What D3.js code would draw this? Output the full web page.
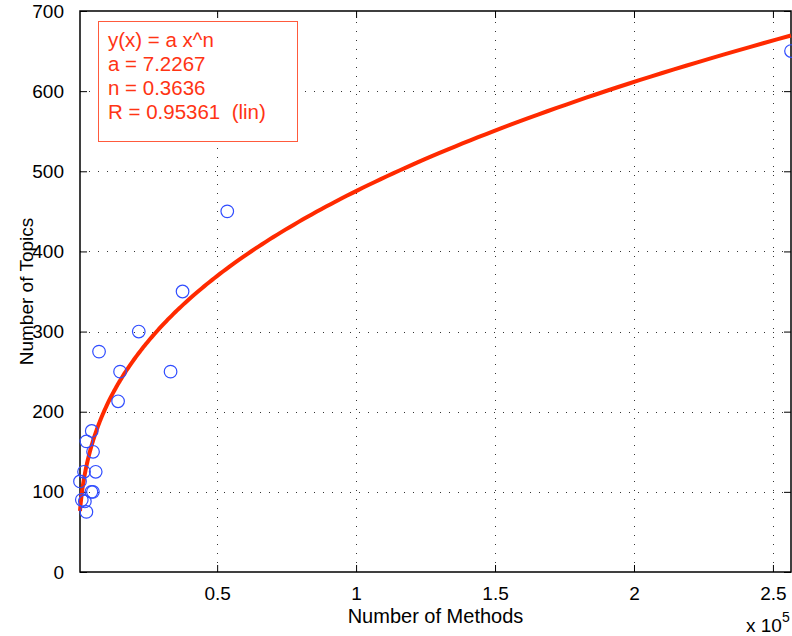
<!DOCTYPE html>
<html>
<head>
<meta charset="utf-8">
<script src="https://cdn.jsdelivr.net/npm/d3@7"></script>
<style>
  body { margin: 0; background: #fff; }
  svg { display: block; font-family: "Liberation Sans", Arial, Helvetica, sans-serif; }
</style>
</head>
<body>
<div id="chart"></div>
<script>
'use strict';

// data
const methods = [650, 1300, 2400, 2950, 2100, 6300, 2950, 4870, 5340, 4760, 5300,
                 14350, 7500, 15070, 33240, 21800, 37560, 53640, 256500];
const topics  = [113, 90, 88, 75, 125, 125, 163, 176, 150, 100, 100,
                 213, 275, 250, 250, 300, 350, 450, 650];
const xTicks = [50000, 100000, 150000, 200000, 250000];
const yTicks = [0, 100, 200, 300, 400, 500, 600, 700];
// power fit y = a x^n
const fitA = 7.2267;
const fitN = 0.3636;
const fitLines = ["y(x) = a x^n", "a = 7.2267", "n = 0.3636", "R = 0.95361  (lin)"];

const width = 792, height = 636;
const margin = {top: 11, right: 1, bottom: 64, left: 80};
const red = "#ff2a00";
const blue = "#2f4cff";

let svg = d3.select("#chart").append("svg")
    .attr("width", width)
    .attr("height", height);

let x = d3.scaleLinear()
    .domain([d3.min(methods), d3.max(methods)])
    .range([margin.left, width - margin.right]);

let y = d3.scaleLinear()
    .domain([0, 700])
    .range([height - margin.bottom, margin.top]);

let x0 = margin.left, x1 = width - margin.right;
let y0 = height - margin.bottom, y1 = margin.top;

// dotted grid
let grid = svg.append("g")
    .attr("stroke", "#333")
    .attr("stroke-width", 1)
    .attr("stroke-dasharray", "1,8");
grid.selectAll(".gx")
    .data(xTicks)
    .join("line")
    .attr("x1", d => Math.round(x(d)) + 0.5).attr("x2", d => Math.round(x(d)) + 0.5)
    .attr("y1", y0).attr("y2", y1);
grid.selectAll(".gy")
    .data(yTicks.filter(d => d > 0 && d < 700))
    .join("line")
    .attr("y1", d => Math.round(y(d)) + 0.5).attr("y2", d => Math.round(y(d)) + 0.5)
    .attr("x1", x0).attr("x2", x1);

// axes with inward ticks (bottom/left) plus mirrored ticks (top/right)
let fmt = d => d3.format("~g")(d / 1e5);

svg.append("g")
    .attr("transform", `translate(0,${y0})`)
    .call(d3.axisBottom(x).tickValues(xTicks).tickSize(-7).tickPadding(15).tickFormat(fmt))
    .call(g => g.select(".domain").remove())
    .call(g => g.selectAll("text").attr("font-size", 19).attr("fill", "#000").attr("font-family", null));

svg.append("g")
    .attr("transform", `translate(0,${y1})`)
    .call(d3.axisTop(x).tickValues(xTicks).tickSize(-7).tickFormat(""))
    .call(g => g.select(".domain").remove());

svg.append("g")
    .attr("transform", `translate(${x0},0)`)
    .call(d3.axisLeft(y).tickValues(yTicks).tickSize(-7).tickPadding(16))
    .call(g => g.select(".domain").remove())
    .call(g => g.selectAll("text").attr("font-size", 19).attr("fill", "#000").attr("font-family", null));

svg.append("g")
    .attr("transform", `translate(${x1},0)`)
    .call(d3.axisRight(y).tickValues(yTicks).tickSize(-7).tickFormat(""))
    .call(g => g.select(".domain").remove());

// frame
svg.append("rect")
    .attr("x", x0).attr("y", y1)
    .attr("width", x1 - x0).attr("height", y0 - y1)
    .attr("fill", "none")
    .attr("stroke", "#000")
    .attr("stroke-width", 1.5);

// fitted curve
let xs = d3.range(0, 301).map(i => d3.min(methods) * Math.pow(d3.max(methods) / d3.min(methods), i / 300));
svg.append("path")
    .datum(xs)
    .attr("fill", "none")
    .attr("stroke", red)
    .attr("stroke-width", 4)
    .attr("d", d3.line().x(d => x(d)).y(d => y(fitA * Math.pow(d, fitN))));

// data points
svg.append("g")
    .selectAll("circle")
    .data(methods.map((m, i) => ({m: m, t: topics[i]})))
    .join("circle")
    .attr("cx", d => x(d.m))
    .attr("cy", d => y(d.t))
    .attr("r", 6.3)
    .attr("fill", "none")
    .attr("stroke", blue)
    .attr("stroke-width", 1.2);

// fit annotation box
let box = svg.append("g");
box.append("rect")
    .attr("x", 98.5).attr("y", 21.5)
    .attr("width", 199).attr("height", 120)
    .attr("fill", "#fff")
    .attr("stroke", "#ff5a3c")
    .attr("stroke-width", 1);
box.selectAll("text")
    .data(fitLines)
    .join("text")
    .attr("x", 108)
    .attr("y", (d, i) => 47 + i * 24)
    .attr("font-size", 20.5)
    .attr("fill", "#ff3414")
    .style("white-space", "pre")
    .text(d => d);

// axis labels
svg.append("text")
    .attr("x", (x0 + x1) / 2)
    .attr("y", 623)
    .attr("text-anchor", "middle")
    .attr("font-size", 20)
    .text("Number of Methods");

svg.append("text")
    .attr("transform", `translate(33,${(y0 + y1) / 2}) rotate(-90)`)
    .attr("text-anchor", "middle")
    .attr("font-size", 19)
    .text("Number of Topics");

let ex = svg.append("text")
    .attr("x", 746)
    .attr("y", 632)
    .attr("font-size", 19);
ex.append("tspan").text("x 10");
ex.append("tspan").attr("dy", -10).attr("font-size", 14).text("5");
</script>
</body>
</html>
